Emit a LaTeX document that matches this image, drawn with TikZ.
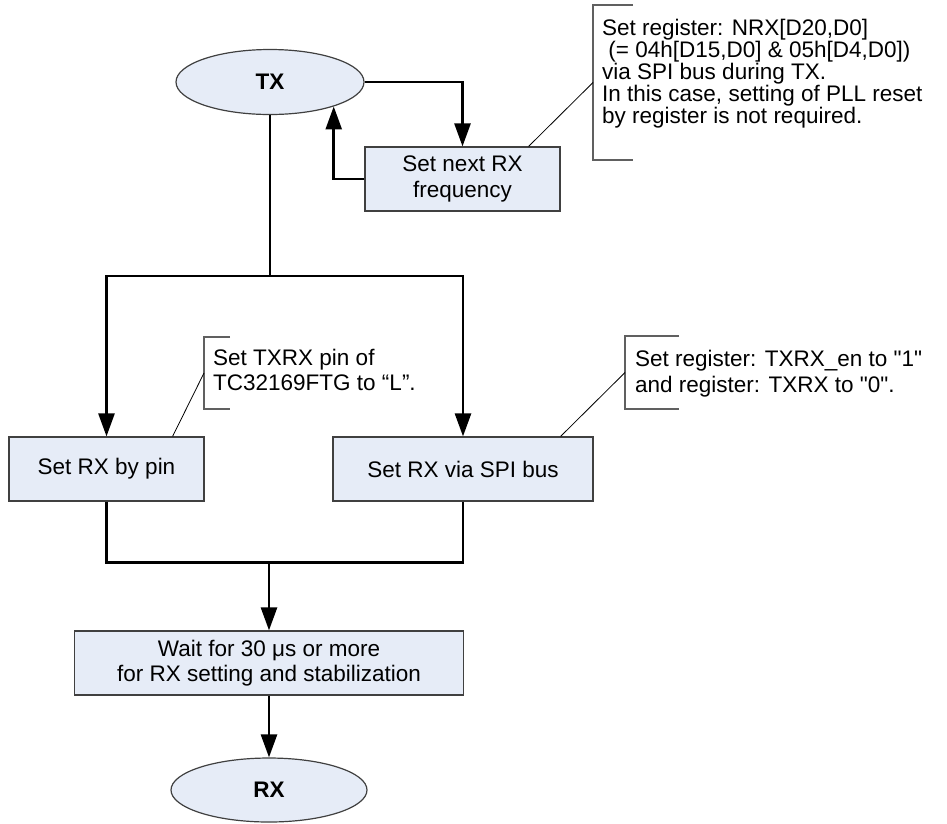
\documentclass[tikz,border=0pt]{standalone}
\usepackage{fontspec}
\setmainfont{Liberation Sans}
\usepackage{xcolor}
\usetikzlibrary{arrows.meta}
\usetikzlibrary{shapes.geometric}

\definecolor{boxfill}{RGB}{230,236,247}
\definecolor{boxline}{RGB}{64,64,64}
\definecolor{notegray}{RGB}{96,96,96}

\tikzset{
  flowbox/.style={draw=boxline, fill=boxfill, line width=1.2pt, align=center,
    inner sep=0pt, minimum height=64pt, font=\fontsize{22.5}{25.5}\selectfont},
  terminal/.style={ellipse, draw=boxline, fill=boxfill, line width=1.2pt,
    inner sep=0pt, font=\fontsize{22.5}{25.5}\selectfont\bfseries},
  flow/.style={line width=2.6pt, -{Triangle[length=23pt,width=16pt]}},
  wire/.style={line width=2.6pt},
  notetext/.style={align=left, inner sep=0pt, anchor=north west,
    font=\fontsize{22.5}{25.5}\selectfont},
  bracket/.style={draw=notegray, line width=1.3pt},
  leader/.style={draw=black, line width=0.8pt}
}

\begin{document}
\begin{tikzpicture}[x=1pt,y=-1pt]
  \useasboundingbox (0,0) rectangle (947,823);

  \node (tx) [terminal, minimum width=188pt, minimum height=65pt] at (270,82) {TX};
  \node (nrx) [flowbox, minimum width=195pt] at (462.5,179) {Set next RX\\frequency};
  \node (pin) [flowbox, minimum width=195pt] at (106.5,469) {Set RX by pin};
  \node (spi) [flowbox, minimum width=260pt] at (463,469) {Set RX via SPI bus};
  \node (wait) [flowbox, minimum width=389pt] at (269,663)
    {Wait for 30 μs or more\\for RX setting and stabilization};
  \node (rx) [terminal, minimum width=196pt, minimum height=64pt] at (269,790) {RX};

  \draw[flow] (tx.east) -| (nrx.north);
  \draw[flow] (nrx.west) -| (tx.-21);
  \path (tx.south) +(0,161) coordinate (fork);
  \draw[wire] (tx.south) -- (fork);
  \draw[flow] (fork) -| (pin.north);
  \draw[flow] (fork) -| (spi.north);
  \path (wait.north) +(0,-68) coordinate (merge);
  \draw[wire] (pin.south) |- (merge);
  \draw[wire] (spi.south) |- (merge);
  \draw[flow] (merge) -- (wait.north);
  \draw[flow] (wait.south) -- (rx.north);

  % notes
  \node (nrxnote) [notetext, font=\fontsize{22.5}{20.5}\selectfont] at (602,18.6)
    {Set register: NRX[D20,D0]\\\ (= 04h[D15,D0] \& 05h[D4,D0])\\via SPI bus during TX.\\In this case, setting of PLL reset\\by register is not required.};
  \draw[bracket] (633,5) -| (593,160) -- ++(40,0);
  \path (593,82.5) coordinate (nrxhook);
  \path (node cs:name=nrx,anchor=north east) +(-32,0) coordinate (nrxfoot);
  \draw[leader] (nrxfoot) -- (nrxhook);

  \node (pinnote) [notetext] at (213,348.6) {Set TXRX pin of\\TC32169FTG to “L”.};
  \draw[bracket] (230,337) -| (204,409) -- ++(26,0);
  \path (204,373) coordinate (pinhook);
  \path (node cs:name=pin,anchor=north east) +(-32,0) coordinate (pinfoot);
  \draw[leader] (pinfoot) -- (pinhook);

  \node (spinote) [notetext] at (635,350.3)
    {Set register: TXRX\_en to \textquotedbl 1\textquotedbl\\and register: TXRX to \textquotedbl 0\textquotedbl.};
  \draw[bracket] (679,336) -| (625,409) -- ++(54,0);
  \path (625,372.5) coordinate (spihook);
  \path (node cs:name=spi,anchor=north east) +(-33,0) coordinate (spifoot);
  \draw[leader] (spifoot) -- (spihook);
\end{tikzpicture}
\end{document}
